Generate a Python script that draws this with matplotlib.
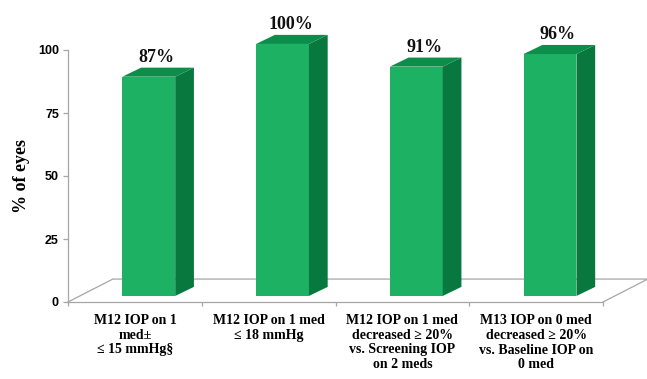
import matplotlib.pyplot as plt
from matplotlib.patches import Polygon

# Share of eyes reaching each IOP target
categories = [
    'M12 IOP on 1\nmed±\n≤ 15 mmHg§',
    'M12 IOP on 1 med\n≤ 18 mmHg',
    'M12 IOP on 1 med\ndecreased ≥ 20%\nvs. Screening IOP\non 2 meds',
    'M13 IOP on 0 med\ndecreased ≥ 20%\nvs. Baseline IOP on\n0 med',
]
percent_eyes = [87, 100, 91, 96]
y_ticks = [0, 25, 50, 75, 100]

front_color = '#1db263'
side_color = '#08783f'
top_color = '#0b8e4a'
floor_color = '#a6a6a6'

serif = ['Liberation Serif', 'DejaVu Serif']

fig = plt.figure(figsize=(6.47, 3.79), dpi=100)
ax = fig.add_axes([68 / 647, 77 / 379, 535 / 647, 252 / 379])

# oblique offsets for the 3-D look (x in category units, y in percent)
floor_dx, floor_dy = 0.335, 9.1
bar_dx, bar_dy = 0.14, 3.6
bar_width = 0.395
bar_shift = 0.104
bar_base = 2.4

# floor outline
ax.plot([0, floor_dx, len(categories) + floor_dx, len(categories)],
        [0, floor_dy, floor_dy, 0], color=floor_color, lw=0.9,
        clip_on=False, zorder=1)

for i, v in enumerate(percent_eyes):
    x0 = i + 0.5 + bar_shift - bar_width / 2
    x1 = x0 + bar_width
    b, t = bar_base, bar_base + v
    front = Polygon([(x0, b), (x1, b), (x1, t), (x0, t)], closed=True,
                    facecolor=front_color, edgecolor='none', clip_on=False, zorder=3)
    side = Polygon([(x1, b), (x1 + bar_dx, b + bar_dy), (x1 + bar_dx, t + bar_dy), (x1, t)],
                   closed=True, facecolor=side_color, edgecolor='none', clip_on=False, zorder=3)
    top = Polygon([(x0, t), (x1, t), (x1 + bar_dx, t + bar_dy), (x0 + bar_dx, t + bar_dy)],
                  closed=True, facecolor=top_color, edgecolor='none', clip_on=False, zorder=3)
    for p in (front, side, top):
        ax.add_patch(p)
    ax.text(i + 0.5 + bar_shift + 0.06, v + 10, f'{v}%', ha='center', va='center',
            fontsize=13, fontweight='bold', family=serif, color='#111111',
            clip_on=False, zorder=4)

ax.set_xlim(0, len(categories))
ax.set_ylim(0, 100)

for side_name in ('top', 'right'):
    ax.spines[side_name].set_visible(False)
for side_name in ('left', 'bottom'):
    ax.spines[side_name].set_color(floor_color)
    ax.spines[side_name].set_linewidth(0.9)

ax.set_yticks(y_ticks)
ax.set_yticklabels([str(t) for t in y_ticks], fontsize=9, fontweight='bold',
                   family=['Liberation Sans', 'DejaVu Sans'])
ax.tick_params(axis='y', length=3.5, width=0.9, color=floor_color, pad=3)

ax.set_xticks(range(len(categories) + 1))
ax.set_xticklabels([])
ax.set_xticks([i + 0.5 for i in range(len(categories))], minor=True)
ax.set_xticklabels(categories, minor=True, fontsize=10, fontweight='bold',
                   family=serif, linespacing=1.15, va='top')
ax.tick_params(axis='x', which='major', length=3, width=0.9, color=floor_color)
ax.tick_params(axis='x', which='minor', length=0, pad=9)

ax.set_ylabel('% of eyes', fontsize=13, fontweight='bold', family=serif, labelpad=6)

fig.savefig('out.png', dpi=100)
